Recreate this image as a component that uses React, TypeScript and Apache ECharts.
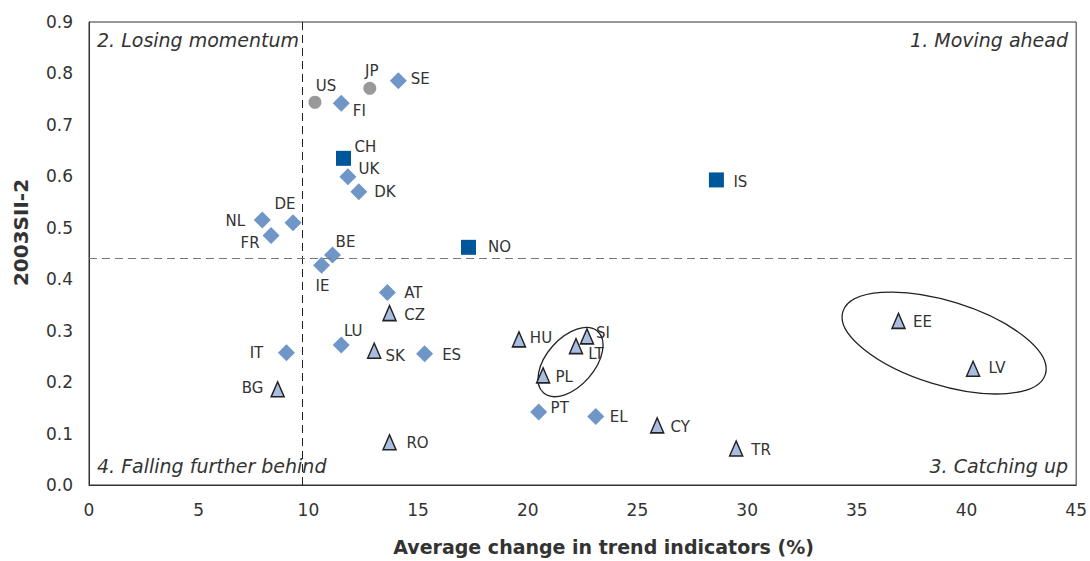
import React, { useEffect, useRef } from "react";
import * as echarts from "echarts";

// EU-15 and others (diamonds)
const diamondNames = ["SE", "FI", "UK", "DK", "NL", "DE", "FR", "BE", "IE", "AT", "LU", "IT", "ES", "PT", "EL"];
const diamondX = [14.1, 11.5, 11.8, 12.3, 7.9, 9.3, 8.3, 11.1, 10.6, 13.6, 11.5, 9.0, 15.3, 20.5, 23.1];
const diamondY = [0.786, 0.742, 0.599, 0.570, 0.515, 0.510, 0.485, 0.447, 0.427, 0.374, 0.272, 0.257, 0.255, 0.142, 0.133];

// US, JP (circles)
const circleNames = ["US", "JP"];
const circleX = [10.3, 12.8];
const circleY = [0.744, 0.771];

// CH, IS, NO (squares)
const squareNames = ["CH", "IS", "NO"];
const squareX = [11.6, 28.6, 17.3];
const squareY = [0.635, 0.593, 0.462];

// New member states & candidates (triangles)
const triNames = ["CZ", "SK", "BG", "RO", "HU", "SI", "LT", "PL", "CY", "TR", "EE", "LV"];
const triX = [13.7, 13.0, 8.6, 13.7, 19.6, 22.7, 22.2, 20.7, 25.9, 29.5, 36.9, 40.3];
const triY = [0.334, 0.261, 0.186, 0.083, 0.283, 0.289, 0.270, 0.213, 0.116, 0.071, 0.319, 0.226];

// reference lines
const refX = 9.7;
const refY = 0.442;

// axis ticks
const xMin = 0, xMax = 45, xInterval = 5;
const yMin = 0, yMax = 0.9, yInterval = 0.1;

// quadrant captions
const quadrantLabels = ["2. Losing momentum", "1. Moving ahead", "4. Falling further behind", "3. Catching up"];

// grouping ellipses (data-space centres)
const ellipseCentersX = [21.95, 38.98];
const ellipseCentersY = [0.239, 0.276];

// label offsets (style)
const labelOffsets: Record<string, [number, number]> = {
  SE: [22, -2], FI: [18, 8], UK: [21, -8], DK: [26, 0], NL: [-27, 1], DE: [-8, -19],
  FR: [-21, 8], BE: [13, -13], IE: [1, 21], AT: [26, 0], LU: [12, -14], IT: [-30, 0],
  ES: [27, 1], PT: [21, -4], EL: [23, 0], US: [11, -16], JP: [2, -17], CH: [22, -11],
  IS: [24, 2], NO: [31, 0], CZ: [25, 2], SK: [21, 5], BG: [-25, -1], RO: [28, 1],
  HU: [22, -1], SI: [16, -3], LT: [20, 8], PL: [21, 2], CY: [23, 2], TR: [25, 2],
  EE: [24, 1], LV: [24, -1],
};

const FONT = "'DejaVu Sans', Verdana, sans-serif";
const TXT = "#333333";

function buildData(names: string[], xs: number[], ys: number[]) {
  return names.map((n, i) => ({
    name: n,
    value: [xs[i], ys[i]],
    label: {
      show: true,
      formatter: n,
      position: "inside",
      align: "center",
      verticalAlign: "middle",
      offset: labelOffsets[n] || [20, 0],
      color: TXT,
      fontSize: 15,
      fontFamily: FONT,
    },
  }));
}

export default function App() {
  const ref = useRef<HTMLDivElement>(null);
  useEffect(() => {
    if (!ref.current) return;
    const chart = echarts.init(ref.current, undefined, { renderer: "svg" });
    const option: any = {
      animation: false,
      backgroundColor: "#ffffff",
      grid: {
        left: 89, right: 13, top: 22, bottom: 73,
        show: true, borderColor: "#333", borderWidth: 1,
      },
      xAxis: {
        type: "value", min: xMin, max: xMax, interval: xInterval,
        name: "Average change in trend indicators (%)",
        nameLocation: "middle", nameGap: 52,
        nameTextStyle: { fontFamily: FONT, fontSize: 19, fontWeight: "bold", color: TXT, padding: [0, 0, 0, 42] },
        axisLine: { show: true, lineStyle: { color: "#333" } },
        axisTick: { show: false },
        splitLine: { show: false },
        axisLabel: { fontFamily: FONT, fontSize: 17, color: TXT, margin: 16 },
      },
      yAxis: {
        type: "value", min: yMin, max: yMax, interval: yInterval,
        name: "2003SII-2",
        nameLocation: "middle", nameGap: 58,
        nameTextStyle: { fontFamily: FONT, fontSize: 20, fontWeight: "bold", color: TXT, padding: [0, 0, 0, 42] },
        axisLine: { show: true, lineStyle: { color: "#333" } },
        axisTick: { show: false },
        splitLine: { show: false },
        axisLabel: {
          fontFamily: FONT, fontSize: 17, color: TXT, margin: 16,
          formatter: (v: number) => v.toFixed(1),
        },
      },
      series: [
        {
          type: "scatter", name: "diamonds", symbol: "diamond", symbolSize: [17, 17],
          itemStyle: { color: "#7096c8", opacity: 1 },
          data: buildData(diamondNames, diamondX, diamondY),
          markLine: {
            silent: true, symbol: "none", label: { show: false },
            data: [
              { xAxis: refX, lineStyle: { color: "#222", type: [8, 5], width: 1 } },
              { yAxis: refY, lineStyle: { color: "#777", type: [8, 5], width: 1 } },
            ],
          },
        },
        {
          type: "scatter", name: "circles", symbol: "circle", symbolSize: 13,
          itemStyle: { color: "#999999", opacity: 1 },
          data: buildData(circleNames, circleX, circleY),
        },
        {
          type: "scatter", name: "squares", symbol: "rect", symbolSize: 15,
          itemStyle: { color: "#00569a", opacity: 1 },
          data: buildData(squareNames, squareX, squareY),
        },
        {
          type: "scatter", name: "triangles", symbol: "triangle", symbolSize: [13, 15],
          itemStyle: { color: "#a8bde0", borderColor: "#222", borderWidth: 1.5, opacity: 1 },
          data: buildData(triNames, triX, triY),
        },
      ],
    };
    chart.setOption(option);

    const qStyle = { fontFamily: FONT, fontSize: 19, fontStyle: "italic", fill: TXT };
    const c1 = chart.convertToPixel({ gridIndex: 0 }, [ellipseCentersX[0], ellipseCentersY[0]]);
    const c2 = chart.convertToPixel({ gridIndex: 0 }, [ellipseCentersX[1], ellipseCentersY[1]]);
    chart.setOption({
      graphic: [
        { type: "text", left: 97, top: 30, style: { ...qStyle, text: quadrantLabels[0] } },
        { type: "text", right: 22, top: 30, style: { ...qStyle, text: quadrantLabels[1] } },
        { type: "text", left: 97, top: 456, style: { ...qStyle, text: quadrantLabels[2] } },
        { type: "text", right: 22, top: 456, style: { ...qStyle, text: quadrantLabels[3] } },
        {
          type: "ellipse", x: c1[0], y: c1[1], rotation: 0.85,
          shape: { cx: 0, cy: 0, rx: 41, ry: 24 },
          style: { fill: "none", stroke: "#222", lineWidth: 1.3 },
        },
        {
          type: "ellipse", x: c2[0], y: c2[1], rotation: -0.3,
          shape: { cx: 0, cy: 0, rx: 106, ry: 42 },
          style: { fill: "none", stroke: "#222", lineWidth: 1.3 },
        },
      ],
    });
    return () => chart.dispose();
  }, []);
  return <div ref={ref} style={{ width: 1090, height: 561, position: "absolute", left: 0, top: 0 }} />;
}
